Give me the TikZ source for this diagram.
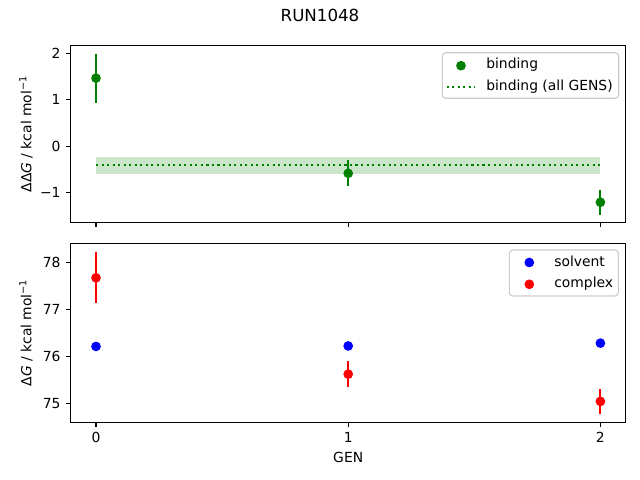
\documentclass[tikz,border=0pt]{standalone}
\usepackage{fontspec}
\setmainfont{DejaVu Sans}
\definecolor{mgreen}{RGB}{0,128,0}
\definecolor{mblue}{RGB}{0,0,255}
\definecolor{mred}{RGB}{255,0,0}
\begin{document}
\begin{tikzpicture}[x=0.72bp,y=-0.72bp,font=\fontsize{10bp}{12bp}\selectfont,
  pt/.style={circle,fill=#1,inner sep=0,minimum size=7bp},
  ebar/.style={draw=#1,line width=1.5bp},
  dotline/.style={draw=mgreen,line width=1.5bp,dash pattern=on 1.5bp off 2.475bp},
  frame/.style={line width=0.8bp},
  tick/.style={line width=0.8bp},
  leg/.style={draw=black!20,fill=white,fill opacity=0.8,draw opacity=1,rounded corners=2.5bp,line width=0.8bp},
  lbl/.style={inner sep=0}]
\useasboundingbox (0,0) rectangle (640,480);
% ---------- top axes ----------
\begin{scope}[shift={(96,146.2)},x=181.58bp,y=33.34bp]
  \fill[mgreen,fill opacity=0.2] (0,-0.23) rectangle (2,-0.59);
  \draw[dotline] (0,-0.40) coordinate (m0) -- (2,-0.40) coordinate (m2);
  \draw[ebar=mgreen] (0,0.94) coordinate (t0lo) -- (0,2.0) coordinate (t0hi);
  \draw[ebar=mgreen] (1,-0.865) coordinate (t1lo) -- (1,-0.305) coordinate (t1hi);
  \draw[ebar=mgreen] (2,-1.48) coordinate (t2lo) -- (2,-0.94) coordinate (t2hi);
  \node[pt=mgreen] (t0) at (0,1.47) {};
  \node[pt=mgreen] (t1) at (1,-0.585) {};
  \node[pt=mgreen] (t2) at (2,-1.21) {};
  \draw[frame] (-0.1,-1.65) rectangle (2.1,2.18);
  \foreach \v/\t/\n in {2/2/a,1/1/b,0/0/c,-1/−1/d}
    \draw[tick] (-0.1,\v) -- ++(-3.5bp,0) node[anchor=east,lbl,xshift=-3.5bp] (ty\n) {\t};
  \foreach \g in {0,1,2}
    \draw[tick] (\g,-1.65) -- ++(0,-3.5bp);
\end{scope}
% ---------- bottom axes ----------
\begin{scope}[shift={(96,403.3)},x=181.58bp,y=33.84bp,shift={(0,-75)}]
  \draw[ebar=mred] (0,77.14) coordinate (c0lo) -- (0,78.22) coordinate (c0hi);
  \draw[ebar=mred] (1,75.35) coordinate (c1lo) -- (1,75.90) coordinate (c1hi);
  \draw[ebar=mred] (2,74.78) coordinate (c2lo) -- (2,75.30) coordinate (c2hi);
  \node[pt=mblue] (s0) at (0,76.21) {};
  \node[pt=mblue] (s1) at (1,76.22) {};
  \node[pt=mblue] (s2) at (2,76.28) {};
  \node[pt=mred] (c0) at (0,77.67) {};
  \node[pt=mred] (c1) at (1,75.62) {};
  \node[pt=mred] (c2) at (2,75.04) {};
  \draw[frame] (-0.1,74.60) rectangle (2.1,78.40);
  \foreach \v in {75,76,77,78}
    \draw[tick] (-0.1,\v) -- ++(-3.5bp,0) node[anchor=east,lbl,xshift=-3.5bp] (by\v) {\v};
  \foreach \g in {0,1,2}
    \draw[tick] (\g,74.60) -- ++(0,-3.5bp) node[anchor=north,lbl,yshift=-3.5bp] (bx\g) {\g};
\end{scope}
% ---------- labels ----------
\node[anchor=base,font=\fontsize{12bp}{14bp}\selectfont] (title) at (320,22) {RUN1048};
\node[anchor=base] (xlab) at (348.2,462.7) {GEN};
\node[rotate=90,lbl] (ylab1) at (26,134) {ΔΔ\textit{G} / kcal mol\textsuperscript{−1}};
\node[rotate=90,lbl] (ylab2) at (26,332.8) {Δ\textit{G} / kcal mol\textsuperscript{−1}};
% ---------- legends ----------
\draw[leg] (442.3,52.7) rectangle (618.7,98.3);
\node[pt=mgreen] (lgb) at (461,65.7) {};
\node[anchor=base west,lbl] (lgbt) at (486,68.9) {binding};
\draw[dotline] (446.7,87.3) coordinate (lga) -- (474.5,87.3) coordinate (lgz);
\node[anchor=base west,lbl] (lgat) at (486,90.7) {binding (all GENS)};
\draw[leg] (509.3,250) rectangle (618.3,296);
\node[pt=mblue] (lgs) at (529.3,262.5) {};
\node[anchor=base west,lbl] (lgst) at (554,266.3) {solvent};
\node[pt=mred] (lgc) at (529.3,284.3) {};
\node[anchor=base west,lbl] (lgct) at (554,288) {complex};
\end{tikzpicture}
\end{document}
